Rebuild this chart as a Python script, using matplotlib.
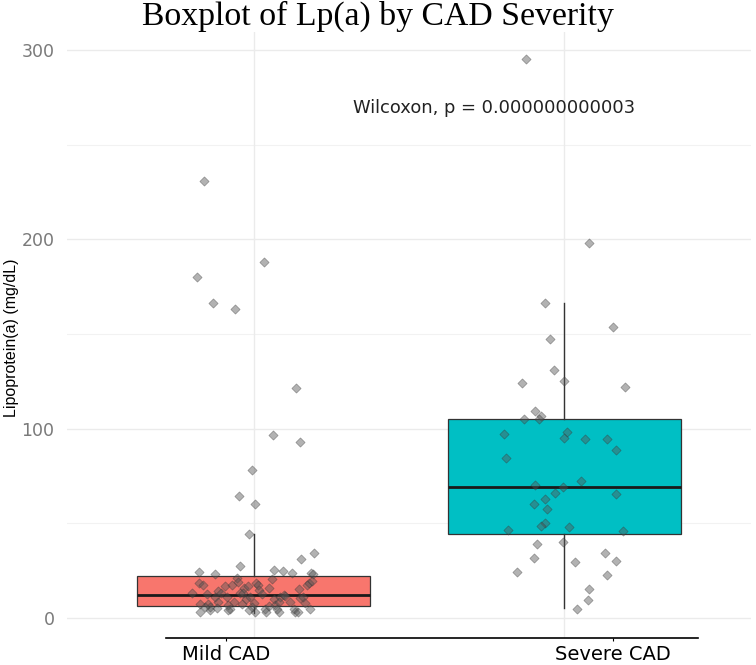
import matplotlib.pyplot as plt
import numpy as np

groups = ["Mild CAD", "Severe CAD"]
box_colors = ["#F8766D", "#00BFC4"]

# box stats
q1 = [6.3, 44.4]
med = [12.1, 69.4]
q3 = [22.2, 105.0]
wlo = [2.5, 5.3]
whi = [44.4, 166.6]

# jittered points: (offset from category centre, value)
mild_dx = [-0.158, -0.181, -0.129, -0.059, 0.033, 0.138, 0.062, 0.150,
           -0.004, -0.047, 0.004, -0.014, 0.195, 0.154, -0.042, -0.176,
           -0.125, 0.067, 0.096, 0.125, 0.186, 0.190,
           -0.199, -0.174, -0.161, -0.151, -0.145, -0.172, -0.172, -0.140,
           -0.124, -0.115, -0.113, -0.091, -0.086, -0.081, -0.075, -0.070,
           -0.064, -0.054, -0.049, -0.045, -0.038, -0.030, -0.025, -0.018,
           -0.011, 0.000, 0.005, 0.008, 0.014, 0.016, 0.027, 0.036, 0.040,
           0.051, 0.059, 0.065, 0.070, 0.075, 0.081, 0.086, 0.097, 0.118,
           0.129, 0.134, 0.143, 0.145, 0.150, 0.158, 0.166, 0.172, 0.179,
           0.183, 0.188, -0.118, -0.081, -0.140, -0.156, -0.105, -0.033,
           -0.005, -0.016, 0.049, 0.081, 0.102]
mild_y = [231.0, 180.0, 166.6, 163.2, 188.2, 121.7, 96.8, 93.0,
          78.2, 64.6, 60.4, 44.5, 34.5, 31.0, 27.6, 24.5,
          23.2, 25.4, 25.0, 24.0, 23.5, 23.0,
          13.4, 18.6, 17.4, 12.7, 7.4, 7.4, 3.0, 6.0,
          11.3, 14.0, 8.6, 16.9, 11.3, 6.9, 4.6, 17.4,
          8.6, 21.0, 19.2, 13.4, 7.4, 15.7, 9.9, 16.9,
          11.3, 7.8, 3.4, 18.6, 17.4, 14.8, 12.7, 4.6, 3.4,
          15.7, 20.5, 9.9, 6.9, 4.6, 3.4, 11.3, 12.2, 8.6,
          4.6, 3.4, 3.4, 15.2, 10.4, 11.3, 7.8, 17.4, 18.6,
          4.6, 19.6, 5.1, 4.2, 4.2, 6.0, 13.4, 13.0,
          6.0, 4.2, 6.3, 8.6, 11.7]

severe_dx = [-0.124, 0.078, -0.061, 0.156, -0.048, -0.035, -0.138, -0.001,
             0.196, -0.094, -0.075, -0.131, -0.081, -0.194, 0.008, -0.002,
             0.065, 0.137, 0.167, -0.189, 0.053, -0.094, -0.005, -0.030,
             0.167, -0.063, -0.098, -0.056, -0.063, -0.075, 0.016, -0.181,
             0.187, -0.005, -0.089, 0.129, -0.097, 0.035, 0.167, 0.137,
             -0.152, 0.078, 0.075, 0.040]
severe_y = [295.3, 198.3, 166.6, 153.9, 147.2, 131.0, 124.0, 125.2,
            122.2, 109.5, 106.9, 105.0, 105.0, 97.2, 98.4, 94.9,
            94.4, 94.4, 88.7, 84.4, 72.4, 70.4, 69.0, 66.0,
            65.5, 62.7, 60.4, 57.4, 50.3, 48.6, 48.2, 46.3,
            45.8, 40.1, 39.3, 34.5, 31.9, 29.4, 30.1, 22.7,
            24.3, 15.3, 9.3, 4.6]

p_text = "Wilcoxon, p = 0.000000000003"
title = "Boxplot of Lp(a) by CAD Severity"

fig = plt.figure(figsize=(7.56, 6.65), dpi=100)
ax = fig.add_axes([0.0886, 0.0406, 0.9048, 0.9113])

ax.set_xlim(0.4, 2.6)
ax.set_ylim(-10.6, 309.6)

# grid like theme_minimal
for v in [0, 100, 200, 300]:
    ax.axhline(v, color="#ebebeb", lw=1.0, zorder=0)
for v in [50, 150, 250]:
    ax.axhline(v, color="#f2f2f2", lw=0.8, zorder=0)
for xc in [1, 2]:
    ax.axvline(xc, color="#ebebeb", lw=1.0, zorder=0)

stats = []
for i in range(2):
    stats.append(dict(med=med[i], q1=q1[i], q3=q3[i], whislo=wlo[i],
                      whishi=whi[i], fliers=[]))
bp = ax.bxp(stats, positions=[1, 2], widths=0.75, patch_artist=True,
            showcaps=False, showfliers=False,
            boxprops=dict(edgecolor="#333333", linewidth=0.9),
            whiskerprops=dict(color="#333333", linewidth=1.0),
            medianprops=dict(color="#1a1a1a", linewidth=2.0))
for patch, c in zip(bp["boxes"], box_colors):
    patch.set_facecolor(c)
    patch.set_zorder(2)

ax.scatter(1 + np.array(mild_dx), mild_y, marker="D", s=22,
           facecolor="#555555", edgecolor="#333333", linewidths=0.5,
           alpha=0.45, zorder=3)
ax.scatter(2 + np.array(severe_dx), severe_y, marker="D", s=22,
           facecolor="#555555", edgecolor="#333333", linewidths=0.5,
           alpha=0.45, zorder=3)

ax.text(1.32, 269.4, p_text, fontsize=12.9, family="DejaVu Sans",
        va="center", ha="left", color="#222222")

for s in ["top", "right", "left"]:
    ax.spines[s].set_visible(False)
ax.spines["bottom"].set_bounds(0.72, 2.43)
ax.spines["bottom"].set_linewidth(1.2)

ax.set_yticks([0, 100, 200, 300])
ax.tick_params(axis="y", length=0, pad=9, labelsize=12.5, labelcolor="#7a7a7a")
ax.set_xticks([0.913, 2.155])
ax.set_xticklabels(groups, fontsize=14, family="DejaVu Sans")
ax.tick_params(axis="x", length=2, pad=3)

fig.text(12 / 756, 1 - 338 / 665, "Lipoprotein(a) (mg/dL)", rotation=90,
         va="center", ha="center", fontsize=11.5, family="Liberation Sans")
fig.text(0.5, 1 - 1 / 665, title, ha="center", va="top", fontsize=24.3,
         family="Liberation Serif")

fig.savefig("out.png", dpi=100)
